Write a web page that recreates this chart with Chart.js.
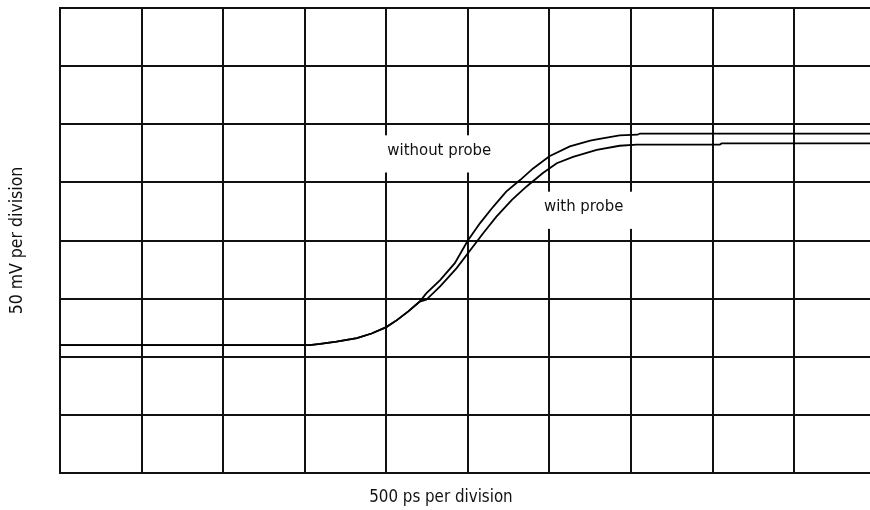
<!DOCTYPE html>
<html>
<head>
<meta charset="utf-8">
<script src="https://cdn.jsdelivr.net/npm/chart.js@4.4.1/dist/chart.umd.min.js"></script>
<style>
  html, body { margin: 0; padding: 0; background: #fff; }
</style>
</head>
<body>
<canvas id="scope" width="870" height="510"></canvas>
<script>
// time in divisions (500 ps/div), voltage in divisions (50 mV/div)
const withoutProbeX = [0, 3.06, 3.19, 3.39, 3.64, 3.82, 4.00, 4.13, 4.27, 4.41, 4.49, 4.66, 4.84, 5.00, 5.15, 5.31, 5.47, 5.64, 5.80, 6.00, 6.25, 6.50, 6.58, 6.86, 7.08, 7.11, 9.93];
const withoutProbeY = [2.20, 2.20, 2.22, 2.26, 2.32, 2.40, 2.51, 2.63, 2.78, 2.95, 3.09, 3.32, 3.61, 4.00, 4.30, 4.58, 4.84, 5.04, 5.24, 5.45, 5.62, 5.72, 5.74, 5.81, 5.82, 5.84, 5.84];

const withProbeX = [0, 3.06, 3.19, 3.39, 3.64, 3.82, 4.00, 4.13, 4.27, 4.41, 4.49, 4.66, 4.86, 5.05, 5.19, 5.35, 5.54, 5.72, 5.92, 6.09, 6.29, 6.58, 6.86, 7.07, 8.09, 8.11, 9.93];
const withProbeY = [2.20, 2.20, 2.22, 2.26, 2.32, 2.40, 2.51, 2.63, 2.78, 2.95, 2.98, 3.21, 3.52, 3.87, 4.13, 4.41, 4.70, 4.93, 5.16, 5.33, 5.44, 5.56, 5.63, 5.65, 5.65, 5.67, 5.67];

const xTitle = '500 ps per division';
const yTitle = '50 mV per division';
const traceLabels = ['without probe', 'with probe'];

const toPoints = (xs, ys) => xs.map((x, i) => ({ x: x, y: ys[i] }));

const FONT = "'Liberation Sans Narrow', 'DejaVu Sans Condensed', Roboto, sans-serif";

// white label boxes over the graticule + the x title (sits left of centre in the original)
const traceLabelPlugin = {
  id: 'traceLabels',
  beforeDatasetsDraw(chart) {
    const { ctx, scales: { x, y } } = chart;
    const boxes = [
      { text: traceLabels[0], x0: 3.97, x1: 5.36, y0: 5.81, y1: 5.17, tx: 4.65, ty: 5.55 },
      { text: traceLabels[1], x0: 5.90, x1: 7.04, y0: 4.84, y1: 4.20, tx: 6.42, ty: 4.59 }
    ];
    ctx.save();
    boxes.forEach(b => {
      const left = x.getPixelForValue(b.x0);
      const right = x.getPixelForValue(b.x1);
      const top = y.getPixelForValue(b.y0);
      const bottom = y.getPixelForValue(b.y1);
      ctx.fillStyle = '#fff';
      ctx.fillRect(left, top, right - left, bottom - top);
      ctx.fillStyle = '#111';
      ctx.font = '16.6px ' + FONT;
      ctx.textAlign = 'center';
      ctx.textBaseline = 'middle';
      ctx.fillText(b.text, x.getPixelForValue(b.tx), y.getPixelForValue(b.ty));
    });
    ctx.restore();
  },
  afterDraw(chart) {
    const { ctx, chartArea, scales: { x } } = chart;
    ctx.save();
    ctx.fillStyle = '#111';
    ctx.font = '16.8px ' + FONT;
    ctx.textAlign = 'center';
    ctx.textBaseline = 'middle';
    ctx.fillText(xTitle, x.getPixelForValue(4.67), chartArea.bottom + 25);
    ctx.restore();
  }
};

new Chart(document.getElementById('scope').getContext('2d'), {
  type: 'line',
  data: {
    datasets: [
      {
        label: traceLabels[0],
        data: toPoints(withoutProbeX, withoutProbeY),
        borderColor: '#000',
        borderWidth: 1.8,
        pointRadius: 0,
        tension: 0
      },
      {
        label: traceLabels[1],
        data: toPoints(withProbeX, withProbeY),
        borderColor: '#000',
        borderWidth: 1.8,
        pointRadius: 0,
        tension: 0
      }
    ]
  },
  options: {
    responsive: false,
    animation: false,
    layout: { padding: { top: 8, right: 0, left: 0, bottom: 0 } },
    plugins: {
      legend: { display: false },
      tooltip: { enabled: false }
    },
    scales: {
      x: {
        type: 'linear',
        min: 0,
        max: 9.93,
        ticks: { display: false, stepSize: 1, includeBounds: false },
        grid: { color: '#111', lineWidth: 2, drawTicks: false },
        border: { display: true, color: '#111', width: 2 },
        afterFit(scale) { scale.height = 37; }
      },
      y: {
        min: 0,
        max: 8,
        ticks: { display: false, stepSize: 1 },
        grid: { color: '#111', lineWidth: 2, drawTicks: false },
        border: { display: true, color: '#111', width: 2 },
        title: {
          display: true,
          text: yTitle,
          color: '#111',
          font: { family: FONT, size: 17.5 },
          padding: { top: 6.5, bottom: 0 }
        },
        afterFit(scale) { scale.width = 60; }
      }
    }
  },
  plugins: [traceLabelPlugin]
});
</script>
</body>
</html>
